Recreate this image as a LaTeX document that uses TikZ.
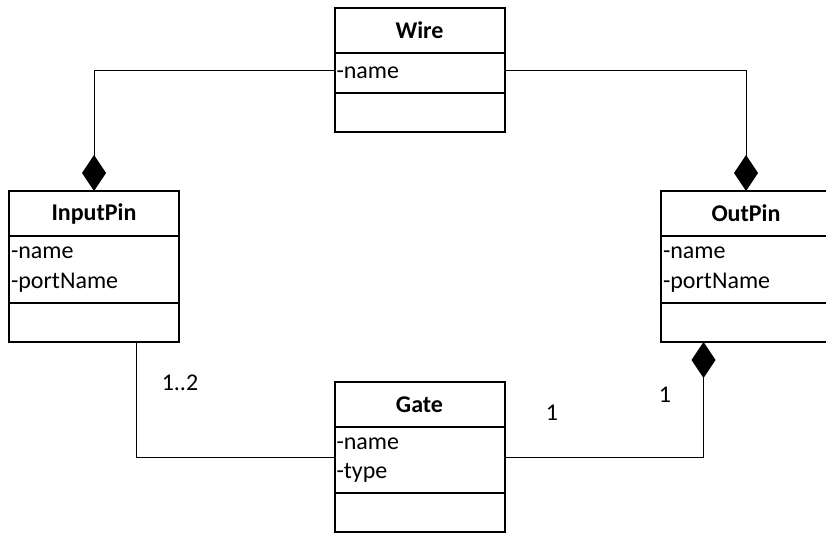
\documentclass[tikz,border=0pt]{standalone}
\usepackage{fontspec}
\setmainfont{Carlito}
\usepackage{tikz}
\usetikzlibrary{arrows.meta, positioning, calc}
\newcommand{\umlfont}{\fontsize{24}{29.3}\selectfont}

\begin{document}
\begin{tikzpicture}[
    x=1pt, y=-1pt,
    node distance=0pt,
    clstitle/.style={rectangle, draw, line width=2pt, outer sep=0pt, inner sep=0pt, minimum width=170pt, minimum height=45pt, font=\umlfont\bfseries},
    clsattr/.style={rectangle, draw, line width=2pt, outer sep=0pt, inner xsep=2pt, inner ysep=0pt, text width=166pt, align=left, minimum height=40pt},
    clsops/.style={rectangle, draw, line width=2pt, outer sep=0pt, inner sep=0pt, minimum width=170pt, minimum height=39pt},
    assoc/.style={line width=1pt},
    comp/.style={line width=1pt, -{Diamond[length=36pt, width=24pt]}},
    mult/.style={inner sep=0pt},
    every node/.style={font=\umlfont}
]
\useasboundingbox (0,0) rectangle (826,532);

% Wire
\node[clstitle] (wireT) at (419.5,30.5) {Wire};
\node[clsattr, below=of wireT] (wireA) {-name};
\node[clsops, below=of wireA] (wireM) {};

% InputPin
\node[clstitle] (inT) at (94,213.5) {InputPin};
\node[clsattr, below=of inT, minimum height=67pt] (inA) {-name\\-portName};
\node[clsops, below=of inA] (inM) {};

% OutPin
\node[clstitle] (outT) at (746,213.5) {OutPin};
\node[clsattr, below=of outT, minimum height=67pt] (outA) {-name\\-portName};
\node[clsops, below=of outA] (outM) {};

% Gate
\node[clstitle] (gateT) at (419.5,404.5) {Gate};
\node[clsattr, below=of gateT, minimum height=66pt] (gateA) {-name\\-type};
\node[clsops, below=of gateA] (gateM) {};

% Multiplicities
\node[mult] (mIn) at (180,383) {1..2};
\node[mult] (mGate) at (552,413) {1};
\node[mult] (mOut) at (665,395) {1};

% Wire is composed into both pins
\draw[comp] ([yshift=2pt]wireA.west) -| (inT.north);
\draw[comp] ([yshift=2pt]wireA.east) -| (outT.north);

% Gate links
\draw[assoc] ($(inM.south west)!0.75!(inM.south east)$) |- ([yshift=3pt]gateA.west);
\draw[comp] ([yshift=3pt]gateA.east) -| ($(outM.south west)!0.25!(outM.south east)$);

\end{tikzpicture}
\end{document}
